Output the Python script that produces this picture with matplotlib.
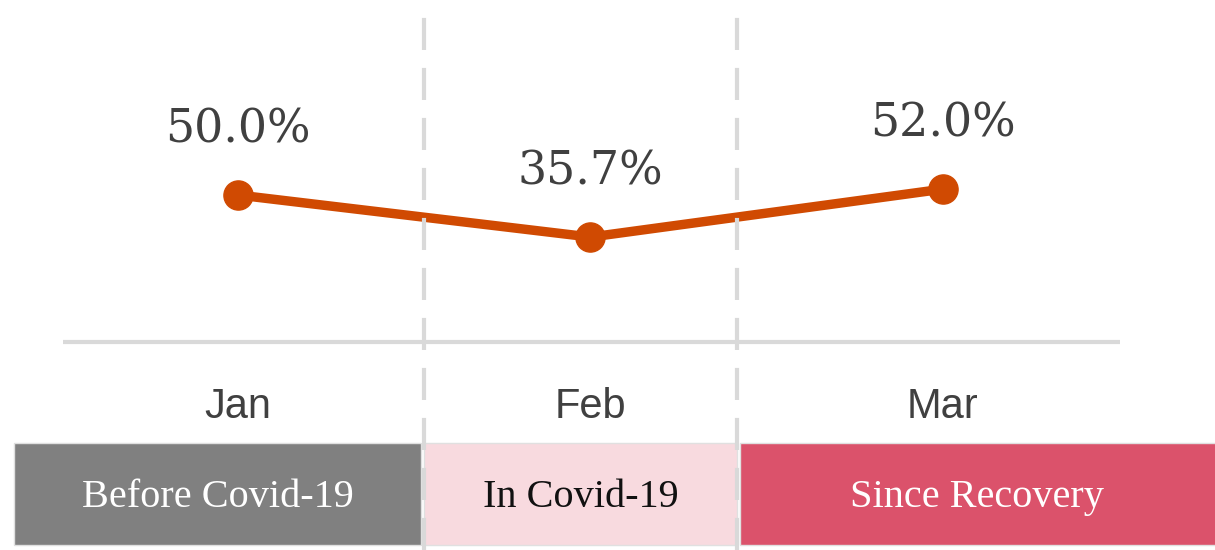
import matplotlib
matplotlib.use("Agg")
import matplotlib.pyplot as plt
from matplotlib.patches import Rectangle
import matplotlib.transforms as mtransforms

# dados
months = ["Jan", "Feb", "Mar"]
share = [50.0, 35.7, 52.0]
phases = ["Before Covid-19", "In Covid-19", "Since Recovery"]

# faixas de fase em coordenadas de categoria (layout, não dado)
phase_spans = [(-0.635, 0.519), (0.528, 1.416), (1.424, 2.80)]
phase_colors = ["#808080", "#F8DADF", "#DB526B"]
phase_text = ["white", "#111111", "white"]
dividers = [0.528, 1.416]

fig = plt.figure(figsize=(12.15, 5.5), dpi=100)
ax = fig.add_axes([0, 0, 1, 1])
ax.set_xlim(-0.675, 2.772)
ax.set_ylim(-70.7, 116.3)
ax.axis("off")

x = list(range(len(months)))

# linha de base (eixo x)
ax.plot([-0.496, 2.502], [0, 0], color="#D9D9D9", lw=3, solid_capstyle="butt", zorder=1)

ax.plot(x, share, color="#D04A02", lw=6.8, marker="o", markersize=21, zorder=3)

for xi, v in zip(x, share):
    ax.annotate(f"{v:.1f}%", (xi, v), xytext=(0, 47), textcoords="offset points",
                ha="center", va="center", fontsize=33, family="DejaVu Serif",
                color="#404040")

for xi, m in zip(x, months):
    ax.text(xi, -22, m, ha="center", va="center", fontsize=30,
            family="Liberation Sans", color="#404040")

# caixas das fases: x em dados, y em fração do eixo
trans = mtransforms.blended_transform_factory(ax.transData, ax.transAxes)
box_y0, box_h = 5 / 550, 102 / 550
for (x0, x1), col, tc, lab in zip(phase_spans, phase_colors, phase_text, phases):
    ax.add_patch(Rectangle((x0, box_y0), x1 - x0, box_h, transform=trans,
                           facecolor=col, edgecolor="#E0E0E0", lw=1, zorder=2))
    ax.text((x0 + min(x1, 2.772)) / 2, box_y0 + box_h / 2 - 0.006, lab, transform=trans,
            ha="center", va="center", fontsize=29, family="Liberation Serif",
            color=tc, zorder=4)

for d in dividers:
    ax.plot([d, d], [0, 1 - 7 / 550], transform=trans, color="#D9D9D9", lw=3,
            dashes=(7.7, 4.3), zorder=5)

fig.savefig("out.png", dpi=100)
